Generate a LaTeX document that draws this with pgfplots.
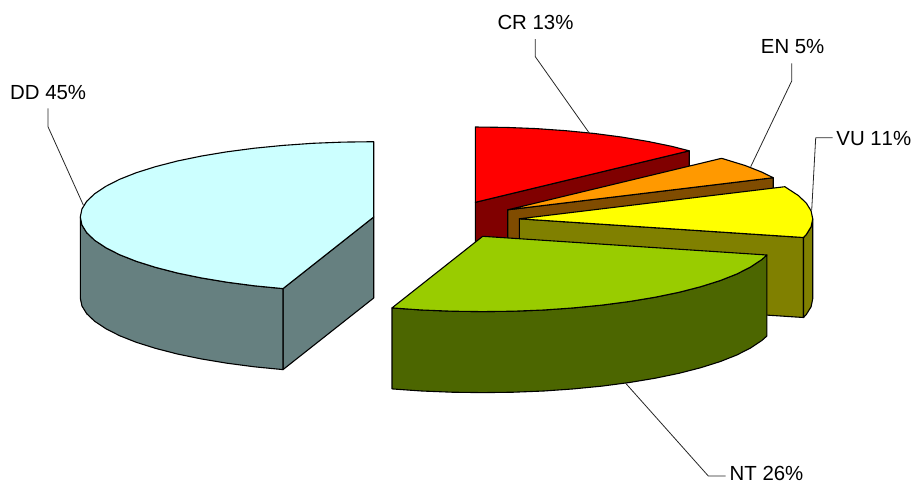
\documentclass[border=0pt]{standalone}
\usepackage{pgfplots}
\pgfplotsset{compat=1.18}
\usepackage{fontspec}
\setmainfont{Liberation Sans}

\definecolor{ddtop}{HTML}{CCFFFF}
\definecolor{ddside}{HTML}{668080}
\definecolor{crtop}{HTML}{FF0000}
\definecolor{crside}{HTML}{800000}
\definecolor{entop}{HTML}{FF9900}
\definecolor{enside}{HTML}{804C00}
\definecolor{vutop}{HTML}{FFFF00}
\definecolor{vuside}{HTML}{808000}
\definecolor{nttop}{HTML}{99CC00}
\definecolor{ntside}{HTML}{4C6600}

\pgfplotsset{
  slice/.style={draw=black,line width=1.1pt,line join=round,fill=#1},
  leader/.style={draw=black!85,line width=0.8pt,line join=round},
}
\tikzset{lab/.style={anchor=base west,inner sep=0pt,font=\fontsize{20.4}{24}\selectfont,text=black}}

\begin{document}
\begin{tikzpicture}
\begin{axis}[
  hide axis,
  scale only axis,
  width=912pt,height=483pt,
  xmin=0,xmax=912,ymin=0,ymax=483,
  y dir=reverse,
  clip=false,
]
\addplot[draw=none] coordinates {(0,0) (912,483)};

% DD 45%
\addplot[slice=ddside] coordinates {(283.0,288.6) (373.7,217) (373.7,298) (283.0,369.6)} --cycle;
\addplot[slice=ddside] coordinates {
  (80.3,217) (81.9,224.9) (86.7,232.7) (94.7,240.3) (105.7,247.6) (119.6,254.7) (136.3,261.3)
  (155.7,267.4) (177.4,273.0) (201.2,277.9) (227.0,282.2) (254.4,285.8) (283.0,288.6)
  (283.0,369.6) (254.4,366.8) (227.0,363.2) (201.2,358.9) (177.4,354.0) (155.7,348.4)
  (136.3,342.3) (119.6,335.7) (105.7,328.6) (94.7,321.3) (86.7,313.7) (81.9,305.9) (80.3,298)
} --cycle;
\addplot[slice=ddtop] coordinates {
  (373.7,217) (373.7,141.7) (343.0,142.1) (312.7,143.3) (283.0,145.4) (254.4,148.2) (227.0,151.8)
  (201.2,156.1) (177.4,161.0) (155.7,166.6) (136.3,172.7) (119.6,179.3) (105.7,186.4) (94.7,193.7)
  (86.7,201.3) (81.9,209.1) (80.3,217) (81.9,224.9) (86.7,232.7) (94.7,240.3) (105.7,247.6)
  (119.6,254.7) (136.3,261.3) (155.7,267.4) (177.4,273.0) (201.2,277.9) (227.0,282.2)
  (254.4,285.8) (283.0,288.6)
} --cycle;

% CR 13%
\addplot[slice=crside] coordinates {(475.3,202.3) (689.2,150.8) (689.2,231.8) (475.3,283.3)} --cycle;
\addplot[slice=crtop] coordinates {
  (475.3,202.3) (475.3,127.0) (506.0,127.4) (536.3,128.6) (566.0,130.7) (594.6,133.5)
  (622.0,137.1) (647.8,141.4) (671.6,146.3) (689.2,150.8)
} --cycle;

% EN 5%
\addplot[slice=enside] coordinates {(507.7,209.8) (773.2,177.7) (773.2,258.7) (507.7,290.8)} --cycle;
\addplot[slice=entop] coordinates {
  (507.7,209.8) (721.6,158.3) (745.1,165.5) (761.8,172.1) (773.2,177.7)
} --cycle;

% VU 11%
\addplot[slice=vuside] coordinates {(519.3,218.8) (803.5,237.5) (803.5,317.5) (519.3,298.8)} --cycle;
\addplot[slice=vuside] coordinates {
  (812.7,218.8) (811.1,226.7) (806.3,234.5) (803.5,237.5)
  (803.5,317.5) (806.3,314.5) (811.1,306.7) (812.7,298.8)
} --cycle;
\addplot[slice=vutop] coordinates {
  (519.3,218.8) (784.8,186.7) (798.3,195.5) (806.3,203.1) (811.1,210.9) (812.7,218.8)
  (811.1,226.7) (806.3,234.5) (803.5,237.5)
} --cycle;

% NT 26%
\addplot[slice=ntside] coordinates {
  (392.0,307.9) (421.7,310.0) (452.0,311.2) (482.7,311.6) (513.4,311.2) (543.7,310.0) (573.4,307.9)
  (602.0,305.1) (629.4,301.5) (655.2,297.2) (679.0,292.3) (700.7,286.7) (720.1,280.6) (736.8,274.0)
  (750.7,266.9) (761.7,259.6) (766.9,255.0)
  (766.9,336.0) (761.7,340.6) (750.7,347.9) (736.8,355.0) (720.1,361.6) (700.7,367.7) (679.0,373.3)
  (655.2,378.2) (629.4,382.5) (602.0,386.1) (573.4,388.9) (543.7,391.0) (513.4,392.2) (482.7,392.6)
  (452.0,392.2) (421.7,391.0) (392.0,388.9)
} --cycle;
\addplot[slice=nttop] coordinates {
  (482.7,236.3) (766.9,255.0) (761.7,259.6) (750.7,266.9) (736.8,274.0) (720.1,280.6) (700.7,286.7)
  (679.0,292.3) (655.2,297.2) (629.4,301.5) (602.0,305.1) (573.4,307.9) (543.7,310.0) (513.4,311.2)
  (482.7,311.6) (452.0,311.2) (421.7,310.0) (392.0,307.9)
} --cycle;

% leader lines
\addplot[leader] coordinates {(48,108.3) (48,126.7) (83.3,205)};
\addplot[leader] coordinates {(535.3,39) (535.3,56.7) (589,132.7)};
\addplot[leader] coordinates {(791.7,63.3) (791.7,81) (750.7,166.7)};
\addplot[leader] coordinates {(832.7,137.7) (815.7,137.7) (811.7,210)};
\addplot[leader] coordinates {(625.7,383.3) (708.3,476) (725.7,476)};

\node[lab] at (axis cs:10,99.3) {DD 45\%};
\node[lab] at (axis cs:497.3,29.3) {CR 13\%};
\node[lab] at (axis cs:760.7,53) {EN 5\%};
\node[lab] at (axis cs:836.2,145) {VU 1\kern0pt 1\%};
\node[lab] at (axis cs:729.5,480.5) {NT 26\%};
\end{axis}
\end{tikzpicture}
\end{document}
